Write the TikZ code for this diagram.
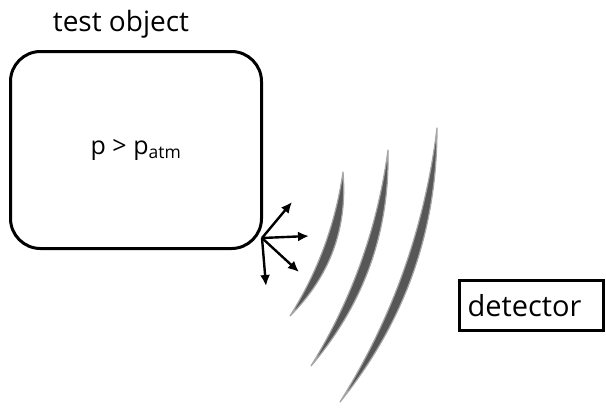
\documentclass[tikz,border=0pt]{standalone}
\usepackage{fontspec}
\setmainfont{Open Sans}
\usetikzlibrary{arrows.meta,positioning}

\begin{document}
\begin{tikzpicture}[x=1pt,y=-1pt,
  objbox/.style={draw,line width=3pt,rounded corners=30pt,minimum width=251pt,minimum height=197pt,font=\fontsize{25}{30}\selectfont},
  detbox/.style={draw,line width=3pt,minimum height=50pt,inner xsep=8pt,text width=128pt,align=left,font=\fontsize{29}{34}\selectfont},
  jet/.style={line width=2.4pt,-{Latex[length=11pt,width=10pt]}},
  wave/.style={fill=black!66,draw=black!35,line width=1.2pt,line join=round}]
\useasboundingbox (0,0) rectangle (606,408);
\node at (136,150) [objbox] (obj) {p > p\textsubscript{atm}};
\node at (121,24) [font=\fontsize{28}{32}\selectfont] (objlabel) {test object};
\node at (531.5,305.5) [detbox] (det) {detector};
% leak point and jets
\coordinate (leak) at (262,238);
\coordinate (j1) at (292,202);
\coordinate (j2) at (309,236);
\coordinate (j3) at (299,272);
\coordinate (j4) at (266,286);
\foreach \j in {j1,j2,j3,j4}
  \draw[jet] (leak) -- (\j);
% sound waves
\filldraw[wave] (290,316) .. controls (330.1,276.2) and (347.7,228.2) .. (343,172)
  .. controls (335.5,223.8) and (317.9,271.8) .. (290,316) -- cycle;
\filldraw[wave] (311,366) .. controls (364.2,303.8) and (389.8,231.8) .. (388,150)
  .. controls (377.6,227.4) and (352,299.4) .. (311,366) -- cycle;
\filldraw[wave] (340,402) .. controls (404.8,322.3) and (437.2,230.9) .. (437,128)
  .. controls (425,226.5) and (392.6,317.9) .. (340,402) -- cycle;
\end{tikzpicture}
\end{document}
